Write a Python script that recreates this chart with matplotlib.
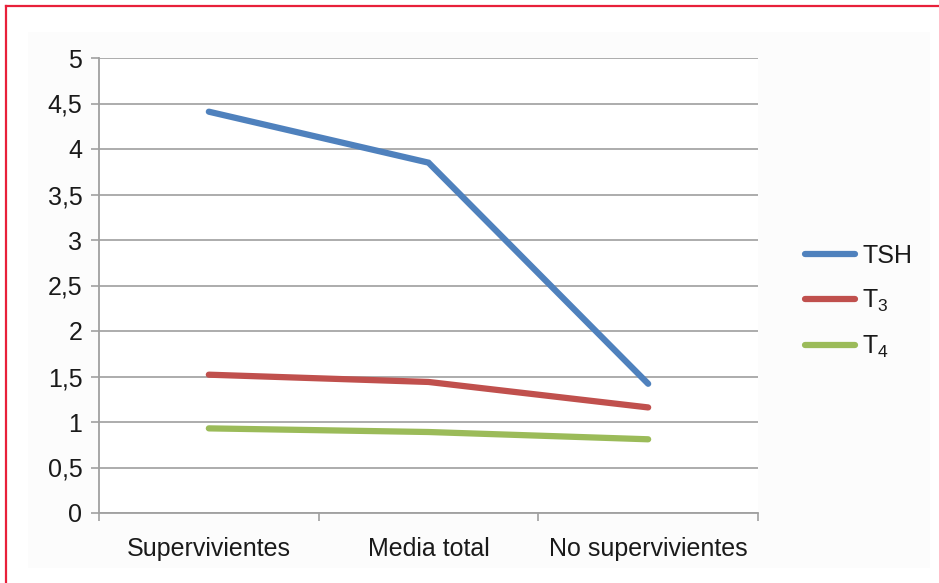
import matplotlib
matplotlib.use("Agg")
import matplotlib.pyplot as plt
from matplotlib.lines import Line2D
from matplotlib.patches import Rectangle

categories = ["Supervivientes", "Media total", "No supervivientes"]
tsh = [4.41, 3.85, 1.42]
t3 = [1.52, 1.44, 1.16]
t4 = [0.93, 0.89, 0.81]
series_labels = ["TSH", r"T$_3$", r"T$_4$"]
yticks = [0, 0.5, 1, 1.5, 2, 2.5, 3, 3.5, 4, 4.5, 5]
ytick_labels = ["0", "0,5", "1", "1,5", "2", "2,5", "3", "3,5", "4", "4,5", "5"]

plt.rcParams["font.family"] = ["Liberation Sans", "DejaVu Sans"]
plt.rcParams["mathtext.default"] = "regular"

W, H = 939, 583
fig = plt.figure(figsize=(W / 100, H / 100), dpi=100)
fig.patch.set_facecolor("white")

# faint background panel
fig.patches.append(Rectangle((28 / W, 1 - 568 / H), (930 - 28) / W, (568 - 32) / H,
                             transform=fig.transFigure, facecolor="#fcfcfc",
                             edgecolor="none", zorder=-10))
# red frame (top and left)
fig.add_artist(Line2D([6 / W, 1], [1 - 6 / H, 1 - 6 / H], transform=fig.transFigure,
                      color="#e8203a", lw=1.6))
fig.add_artist(Line2D([6 / W, 6 / W], [0, 1 - 6 / H], transform=fig.transFigure,
                      color="#e8203a", lw=1.6))

ax = fig.add_axes([99 / W, 1 - 513 / H, (758 - 99) / W, (513 - 58) / H])
ax.set_facecolor("white")

x = [i + 0.5 for i in range(len(categories))]
colors = ["#4f81bd", "#c0504d", "#9bbb59"]
for vals, lab, c in zip([tsh, t3, t4], series_labels, colors):
    ax.plot(x, vals, color=c, lw=4.5, solid_capstyle="round", solid_joinstyle="miter",
            label=lab, zorder=3)

ax.set_xlim(0, 3)
ax.set_ylim(0, 5)
ax.set_yticks(yticks)
ax.set_yticklabels(ytick_labels)
ax.set_xticks(x)
ax.set_xticklabels(categories)
ax.set_xticks([0, 1, 2, 3], minor=True)
ax.tick_params(axis="x", which="major", length=0, pad=17, labelsize=18, colors="#1a1a1a")
ax.tick_params(axis="x", which="minor", length=6, width=1.2, color="#a0a0a0", direction="out")
ax.tick_params(axis="y", length=6, width=1.2, color="#a0a0a0", pad=6, labelsize=18,
               labelcolor="#1a1a1a")
ax.grid(axis="y", color="#a6a6a6", lw=1.3, zorder=0)
for s in ["top", "right"]:
    ax.spines[s].set_visible(False)
for s in ["left", "bottom"]:
    ax.spines[s].set_color("#a0a0a0")
    ax.spines[s].set_linewidth(1.3)

leg = ax.legend(loc="center left", bbox_to_anchor=(805 / W, 1 - 302 / H),
                bbox_transform=fig.transFigure, frameon=False, fontsize=18,
                handlelength=2.0, handletextpad=0.3, labelspacing=0.8,
                borderaxespad=0, borderpad=0)
for t in leg.get_texts():
    t.set_color("#1a1a1a")

fig.savefig("out.png", dpi=100, facecolor="white")
